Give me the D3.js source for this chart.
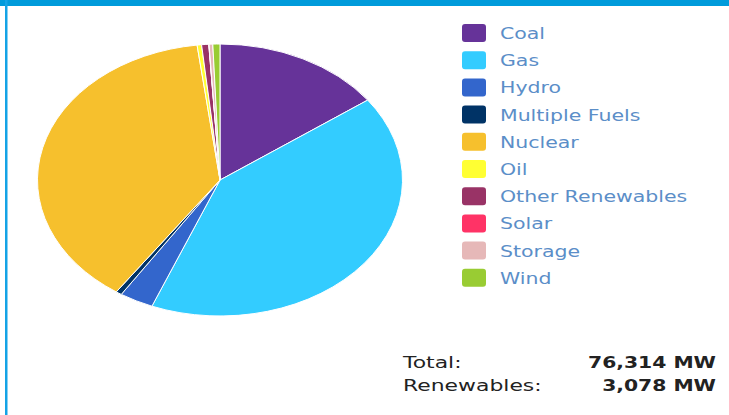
<!DOCTYPE html>
<html>
<head>
<meta charset="utf-8">
<script src="https://cdn.jsdelivr.net/npm/d3@7/dist/d3.min.js"></script>
<style>
  html, body { margin: 0; padding: 0; background: #fff; }
  svg { display: block; }
</style>
</head>
<body>
<div id="chart"></div>
<script>
// fuel types, clockwise from 12 o'clock
const fuels = ["Coal", "Gas", "Hydro", "Multiple Fuels", "Nuclear", "Oil",
               "Other Renewables", "Solar", "Storage", "Wind"];
// installed capacity, MW
const capacity = [11450, 31350, 2300, 400, 29284, 300, 480, 20, 250, 480];
const fuelColors = ["#663399", "#33ccff", "#3366cc", "#003366", "#f6c02d", "#ffff33",
                    "#993366", "#ff3366", "#e6b8b8", "#99cc33"];
// summary rows as printed under the legend
const summaryLabels = ["Total:", "Renewables:"];
const summaryValues = [76314, 3078];

const width = 729, height = 415;
const font = "'DejaVu Sans', Verdana, sans-serif";
const svg = d3.select("#chart").append("svg")
    .attr("width", width)
    .attr("height", height);

// frame: top bar and left rule
svg.append("rect").attr("x", 0).attr("y", 0).attr("width", width).attr("height", 6).attr("fill", "#009bdb");
svg.append("rect").attr("x", 5).attr("y", 0).attr("width", 2.5).attr("height", height).attr("fill", "#14a3e6");

const data = fuels.map((f, i) => ({fuel: f, value: capacity[i], color: fuelColors[i]}));

// pie is a circle stretched into an ellipse
const cx = 220, cy = 180, rx = 182.5, ry = 136;
const pie = d3.pie().value(d => d.value).sort(null);
const arc = d3.arc().innerRadius(0).outerRadius(rx);

const g = svg.append("g")
    .attr("transform", "translate(" + cx + "," + cy + ") scale(1," + (ry / rx) + ")");

g.selectAll("path")
    .data(pie(data))
    .join("path")
    .attr("d", arc)
    .attr("fill", d => d.data.color)
    .attr("stroke", "#fff")
    .attr("stroke-width", 1)
    .attr("vector-effect", "non-scaling-stroke");

// legend
const legendY = d3.scaleBand().domain(fuels).range([20, 292]);
const items = svg.append("g").selectAll("g")
    .data(data)
    .join("g")
    .attr("transform", d => "translate(462," + legendY(d.fuel) + ")");

items.append("rect")
    .attr("width", 24)
    .attr("height", 18)
    .attr("y", 4)
    .attr("rx", 3)
    .attr("fill", d => d.color);

// text in the original is stretched sideways like the pie
items.append("text")
    .attr("transform", "translate(38,19) scale(1.28,1)")
    .text(d => d.fuel)
    .style("font-family", font)
    .style("font-size", "16px")
    .attr("fill", "#5b8ec8");

// totals
const fmt = d3.format(",");
const sy = d3.scalePoint().domain(summaryLabels).range([368, 391]);

const rows = svg.append("g").selectAll("g")
    .data(summaryLabels.map((l, i) => [l, summaryValues[i]]))
    .join("g");

rows.append("text")
    .attr("transform", d => "translate(403," + sy(d[0]) + ") scale(1.37,1)")
    .text(d => d[0])
    .style("font-family", font)
    .style("font-size", "16px")
    .attr("fill", "#222");

rows.append("text")
    .attr("transform", d => "translate(716," + sy(d[0]) + ") scale(1.27,1)")
    .attr("text-anchor", "end")
    .text(d => fmt(d[1]) + " MW")
    .style("font-family", font)
    .style("font-size", "16px")
    .style("font-weight", "bold")
    .attr("fill", "#222");
</script>
</body>
</html>
